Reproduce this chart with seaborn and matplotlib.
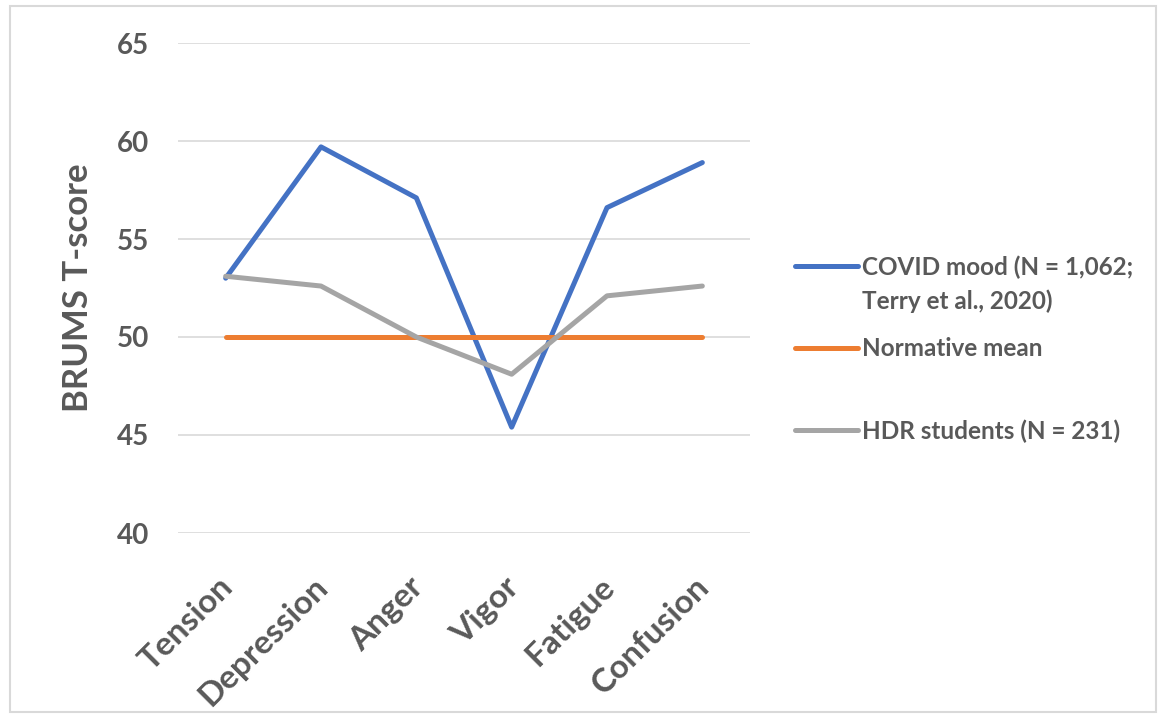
import pandas as pd
import matplotlib
matplotlib.use("Agg")
import matplotlib.pyplot as plt
import matplotlib.patches as patches
import matplotlib.transforms as mtransforms
import seaborn as sns

# ===========================
# DATA
# ===========================
moods = ["Tension", "Depression", "Anger", "Vigor", "Fatigue", "Confusion"]
covid_mood = [53.0, 59.7, 57.1, 45.4, 56.6, 58.9]
normative_mean = [50, 50, 50, 50, 50, 50]
hdr_students = [53.1, 52.6, 50.0, 48.1, 52.1, 52.6]

series_names = ["COVID mood (N = 1,062;\nTerry et al., 2020)",
                "Normative mean",
                "HDR students (N = 231)"]
colors = ["#4472C4", "#ED7D31", "#A5A5A5"]
yticks = [40, 45, 50, 55, 60, 65]

TEXT = "#595959"
GRID = "#D9D9D9"
W, H = 1163, 719

# long-form table for seaborn
df = pd.DataFrame({
    "mood": moods * 3,
    "score": covid_mood + normative_mean + hdr_students,
    "series": [series_names[0]] * 6 + [series_names[1]] * 6 + [series_names[2]] * 6,
})

sns.set_theme(style="white")
plt.rcParams["font.family"] = ["Lato", "DejaVu Sans"]
plt.rcParams["font.weight"] = "bold"

fig = plt.figure(figsize=(W / 100, H / 100), dpi=100)
ax = fig.add_axes([178 / W, 1 - 533 / H, 572 / W, 490 / H])

sns.lineplot(data=df, x="mood", y="score", hue="series",
             palette=colors, linewidth=3.6, sort=False, ax=ax)

# grid & axes
ax.set_ylim(40, 65)
ax.set_yticks(yticks)
ax.set_xlim(-0.5, 5.5)
ax.yaxis.grid(True, color=GRID, linewidth=1.2)
ax.set_axisbelow(True)
for s in ax.spines.values():
    s.set_visible(False)
ax.tick_params(axis="both", length=0, colors=TEXT)
ax.tick_params(axis="y", labelsize=20, pad=21)
ax.tick_params(axis="x", labelsize=24, pad=28)
shift = mtransforms.ScaledTranslation(-8 / 100, 0, fig.dpi_scale_trans)
for lab in ax.get_xticklabels():
    lab.set_rotation(45)
    lab.set_ha("right")
    lab.set_va("top")
    lab.set_rotation_mode("anchor")
    lab.set_transform(lab.get_transform() + shift)
for lab in ax.get_yticklabels() + ax.get_xticklabels():
    lab.set_fontweight("bold")

ax.set_xlabel("")
ax.set_ylabel("BRUMS T-score", fontsize=25, fontweight="bold", color=TEXT)
ax.yaxis.set_label_coords(-0.147, 0.5)

# legend: one line per entry, the second line of the first label added below
handles, labels = ax.get_legend_handles_labels()
ax.get_legend().remove()
first_lines = [lab.split("\n")[0] for lab in labels]
leg = fig.legend(handles, first_lines, loc="center left",
                 bbox_to_anchor=(795 / W, 1 - 349 / H), bbox_transform=fig.transFigure,
                 frameon=False, fontsize=17.5, handlelength=2.6, handletextpad=0.16,
                 labelspacing=2.41, borderpad=0, borderaxespad=0)
for t in leg.get_texts():
    t.set_color(TEXT)
    t.set_fontweight("bold")
for h in leg.get_lines():
    h.set_linewidth(3.6)

fig.canvas.draw()
bb = leg.get_texts()[0].get_window_extent()
extra = labels[0].split("\n")[1:]
for i, line in enumerate(extra):
    fig.text(bb.x0 / W, (bb.y1 - 34 * (i + 1)) / H, line, va="top", ha="left",
             fontsize=17.5, fontweight="bold", color=TEXT)

# border round the chart
fig.patches.append(patches.Rectangle((10 / W, 7 / H), 1146 / W, 706 / H, transform=fig.transFigure,
                                     fill=False, edgecolor=GRID, linewidth=1.5))

plt.savefig("out.png", dpi=100)
